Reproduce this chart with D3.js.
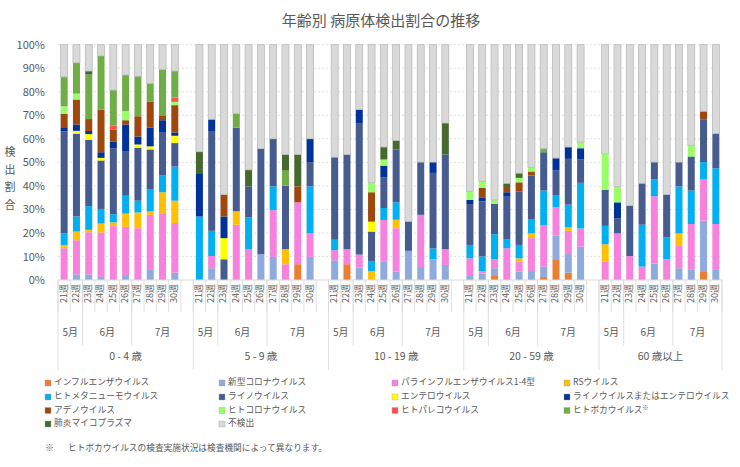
<!DOCTYPE html>
<html>
<head>
<meta charset="utf-8">
<script src="https://cdn.jsdelivr.net/npm/d3@7"></script>
<style>
  body { margin: 0; background: #fff; }
  text { font-family: "Noto Sans CJK JP", "Noto Sans", sans-serif; fill: #595959; }
</style>
</head>
<body>
<div id="chart"></div>
<script>
// age groups, weeks and months on the multi-level x axis
const ageGroups = ["0 - 4 歳", "5 - 9 歳", "10 - 19 歳", "20 - 59 歳", "60 歳以上"];
const weeks = [21, 22, 23, 24, 25, 26, 27, 28, 29, 30];
const months = [
  {label: "5月", from: 0, to: 2},
  {label: "6月", from: 2, to: 6},
  {label: "7月", from: 6, to: 10}
];
const yTicks = [0, 0.1, 0.2, 0.3, 0.4, 0.5, 0.6, 0.7, 0.8, 0.9, 1];

// series names (stack order, bottom first) and colours
const seriesNames = [
  "インフルエンザウイルス", "新型コロナウイルス", "パラインフルエンザウイルス1-4型", "RSウイルス",
  "ヒトメタニューモウイルス", "ライノウイルス", "エンテロウイルス", "ライノウイルスまたはエンテロウイルス",
  "アデノウイルス", "ヒトコロナウイルス", "ヒトパレコウイルス", "ヒトボカウイルス",
  "肺炎マイコプラズマ", "不検出"
];
const seriesColors = [
  "#ED7D31", "#8FAADC", "#F782DD", "#FFC000",
  "#00B0F0", "#475C8E", "#FFFF00", "#003399",
  "#9E480E", "#99FF66", "#FF5050", "#70AD47",
  "#466A2E", "#D9D9D9"
];

// values in %, 10 weeks per age group: 0-4 | 5-9 | 10-19 | 20-59 | 60+
const flu = [
  0, 0, 0, 0, 0, 0, 0, 0, 0, 0,
  0, 0, 0, 0, 0, 0, 0, 0, 6.7, 0,
  0, 6.7, 0, 0, 0, 0, 0, 0, 0, 0,
  0, 0, 1.7, 0, 0, 0, 1.3, 8.5, 3.1, 0,
  0, 0, 0, 0, 0, 0, 0, 0, 3.4, 0
];
const covid = [
  0, 2.4, 2.4, 1.3, 0, 1.7, 0, 4.6, 0, 3.1,
  0, 5.0, 0, 0, 0, 11.0, 9.8, 0, 0, 9.8,
  8.4, 0, 5.3, 0, 7.7, 3.6, 12.4, 5.5, 8.8, 6.4,
  1.7, 2.7, 3.3, 0, 3.6, 3.8, 4.4, 10.3, 7.9, 14.2,
  0, 0, 0, 0, 7.0, 0, 5.0, 4.6, 21.8, 4.6
];
const para = [
  13.5, 14.5, 17.9, 18.9, 22.9, 20.9, 22.0, 23.1, 28.4, 21.1,
  0, 5.2, 0, 23.5, 13.1, 0, 19.9, 6.7, 26.3, 10.0,
  4.3, 6.4, 5.5, 0, 17.8, 18.4, 0, 22.2, 0, 6.7,
  7.5, 1.1, 3.8, 13.5, 4.1, 14.0, 17.6, 12.1, 9.9, 7.7,
  7.7, 19.8, 10.2, 5.7, 28.6, 8.8, 9.8, 19.2, 17.5, 19.2
];
const rsv = [
  1.4, 3.7, 1.0, 3.8, 1.6, 5.6, 6.7, 1.5, 8.9, 9.5,
  0, 0, 0, 5.7, 0, 0, 0, 6.4, 0, 0,
  0, 0, 0, 3.8, 0, 3.6, 0, 0, 0, 0,
  0, 0, 0, 0, 1.5, 2.0, 0, 0, 1.4, 0,
  7.5, 0, 0, 0, 0, 0, 5.0, 0, 0, 0
];
const hmpv = [
  4.9, 6.4, 10.1, 6.2, 3.5, 7.6, 5.0, 9.2, 7.1, 14.5,
  27.0, 10.7, 0, 0, 13.5, 0, 10.1, 0, 0, 20.0,
  4.4, 0, 0, 4.3, 5.1, 7.4, 0, 0, 4.6, 0,
  5.7, 6.2, 10.7, 3.9, 5.7, 6.1, 14.7, 5.2, 9.7, 19.4,
  7.8, 0, 0, 17.8, 7.1, 9.3, 20.0, 14.2, 7.4, 23.7
];
const rhino = [
  43.4, 35.2, 28.2, 20.6, 28.0, 19.0, 22.5, 17.1, 18.2, 10.0,
  0, 42.4, 8.8, 35.5, 13.2, 44.8, 20.2, 27.0, 0, 10.3,
  35.1, 40.2, 55.9, 12.5, 13.1, 22.5, 12.5, 22.4, 32.1, 40.2,
  17.4, 23.4, 12.8, 18.0, 22.8, 18.5, 16.3, 10.4, 19.5, 9.9,
  15.4, 6.5, 21.4, 17.6, 7.4, 18.2, 10.3, 14.5, 18.0, 14.7
];
const entero = [
  0, 1.2, 2.4, 1.1, 0, 0, 1.4, 1.3, 0, 3.1,
  0, 0, 9.0, 0, 0, 0, 0, 0, 0, 0,
  0, 0, 0, 4.2, 0, 0, 0, 0, 0, 0,
  0, 0, 0, 0, 0, 0, 0, 0, 0, 0,
  0, 0, 0, 0, 0, 0, 0, 0, 0, 0
];
const rhinoEntero = [
  1.4, 2.7, 1.3, 2.4, 2.9, 11.3, 3.4, 7.9, 5.3, 1.4,
  18.4, 5.0, 9.2, 0, 0, 0, 0, 0, 0, 9.9,
  0, 0, 5.7, 0, 4.9, 0, 0, 0, 4.6, 0,
  1.7, 1.5, 0, 1.9, 0, 0, 0, 5.3, 5.0, 4.8,
  0, 6.7, 0, 0, 0, 0, 0, 0, 0, 0
];
const adeno = [
  6.1, 10.6, 5.1, 18.1, 5.1, 1.8, 8.6, 11.0, 1.8, 11.6,
  0, 0, 9.3, 0, 0, 0, 0, 0, 6.8, 0,
  0, 0, 0, 12.5, 0, 0, 0, 0, 0, 0,
  0, 4.2, 0, 1.8, 3.8, 1.7, 0, 0, 0, 0,
  0, 0, 0, 0, 0, 0, 0, 0, 3.6, 0
];
const hcov = [
  3.1, 2.5, 0, 0, 0, 3.9, 0, 0, 0, 1.4,
  0, 0, 0, 0, 0, 0, 0, 0, 0, 0,
  0, 0, 0, 4.2, 2.6, 0, 0, 0, 0, 0,
  3.7, 2.9, 1.7, 0, 1.9, 1.8, 0, 0, 0, 2.6,
  15.2, 6.8, 0, 0, 0, 0, 0, 4.7, 0, 0
];
const parecho = [
  0, 0, 0, 0, 1.6, 0, 0, 0, 0, 1.8,
  0, 0, 0, 0, 0, 0, 0, 0, 0, 0,
  0, 0, 0, 0, 0, 0, 0, 0, 0, 0,
  0, 0, 0, 0, 0, 0, 0, 0, 0, 0,
  0, 0, 0, 0, 0, 0, 0, 0, 0, 0
];
const boca = [
  12.5, 13.1, 18.9, 22.8, 15.1, 15.3, 17.0, 7.8, 19.8, 11.3,
  0, 0, 0, 6.0, 0, 0, 0, 6.4, 0, 0,
  0, 0, 0, 0, 0, 0, 0, 0, 0, 0,
  0, 0, 0, 0, 0, 0, 1.5, 0, 0, 0,
  0, 0, 0, 0, 0, 0, 0, 0, 0, 0
];
const myco = [
  0, 0, 1.5, 0, 0, 0, 0, 0, 0, 0,
  9.1, 0, 0, 0, 7.0, 0, 0, 6.8, 13.5, 0,
  0, 0, 0, 0, 5.3, 3.8, 0, 0, 0, 13.4,
  0, 0, 0, 2.0, 2.0, 0, 0, 0, 0, 0,
  0, 0, 0, 0, 0, 0, 0, 0, 0, 0
];
const notDetected = [
  13.7, 7.7, 11.2, 4.8, 19.3, 12.9, 13.4, 16.5, 10.5, 11.2,
  45.5, 31.7, 63.7, 29.3, 53.2, 44.2, 40.0, 46.7, 46.7, 40.0,
  47.8, 46.7, 27.6, 58.5, 43.5, 40.7, 75.1, 49.9, 49.9, 33.3,
  62.3, 58.0, 66.0, 58.9, 54.6, 52.1, 44.2, 48.2, 43.5, 41.4,
  46.4, 60.2, 68.4, 58.9, 49.9, 63.7, 49.9, 42.8, 28.3, 37.8
];
const seriesValues = [flu, covid, para, rsv, hmpv, rhino, entero, rhinoEntero,
                      adeno, hcov, parecho, boca, myco, notDetected];

// build rows for d3.stack
const rows = [];
ageGroups.forEach((g, gi) => {
  weeks.forEach((w, wi) => {
    const row = {key: gi + "-" + w, group: gi, week: w};
    seriesNames.forEach((s, si) => { row[s] = seriesValues[si][gi * 10 + wi]; });
    rows.push(row);
  });
});

// x slots: 10 weeks per group, plus one empty slot after each group but the last
const slots = [];
ageGroups.forEach((g, gi) => {
  weeks.forEach(w => slots.push(gi + "-" + w));
  if (gi < ageGroups.length - 1) slots.push(gi + "-blank");
});

const W = 740, H = 467;
const plot = {left: 58, right: 722, top: 44.7, bottom: 280};

const svg = d3.select("#chart").append("svg")
  .attr("width", W).attr("height", H);

const x = d3.scaleBand().domain(slots).range([plot.left, plot.right]).paddingInner(0.43).paddingOuter(0.215);
const step = x.step();
const x0 = plot.left;
const y = d3.scaleLinear().domain([0, 1]).range([plot.bottom, plot.top]);

// title
svg.append("text")
  .attr("x", 381).attr("y", 22)
  .attr("text-anchor", "middle").attr("dominant-baseline", "middle")
  .style("font-size", "15px")
  .text("年齢別 病原体検出割合の推移");

// gridlines
svg.append("g").selectAll("line")
  .data(yTicks.filter(t => t > 0))
  .join("line")
  .attr("x1", plot.left).attr("x2", plot.right)
  .attr("y1", d => y(d)).attr("y2", d => y(d))
  .attr("stroke", "#D9D9D9").attr("stroke-width", 0.8)
  .attr("stroke-dasharray", "2,2");

// y axis labels
const yAxis = svg.append("g")
  .attr("transform", `translate(${plot.left},0)`)
  .call(d3.axisLeft(y).tickValues(yTicks).tickFormat(d3.format(".0%")).tickSize(0).tickPadding(13));
yAxis.select(".domain").remove();
yAxis.selectAll("text").style("font-size", "11px").attr("fill", "#595959")
  .style("font-family", "\"Noto Sans CJK JP\", sans-serif");

// y title, upright characters stacked vertically
svg.append("g").selectAll("text")
  .data("検出割合".split(""))
  .join("text")
  .attr("x", 10).attr("y", (d, i) => 153 + i * 17.7)
  .attr("text-anchor", "middle").attr("dominant-baseline", "middle")
  .style("font-size", "11px")
  .text(d => d);

// stacked bars
const stack = d3.stack().keys(seriesNames).offset(d3.stackOffsetExpand);
const stacked = stack(rows);

svg.append("g").selectAll("g")
  .data(stacked)
  .join("g")
  .attr("fill", (d, i) => seriesColors[i])
  .attr("stroke", (d, i) => i === seriesNames.length - 1 ? "#B4B4B4" : "none")
  .attr("stroke-width", 0.7)
  .selectAll("rect")
  .data(d => d.filter(p => p[1] - p[0] > 0))
  .join("rect")
  .attr("x", d => x(d.data.key))
  .attr("width", x.bandwidth())
  .attr("y", d => y(d[1]))
  .attr("height", d => y(d[0]) - y(d[1]));

// baseline
svg.append("line")
  .attr("x1", plot.left).attr("x2", plot.right)
  .attr("y1", plot.bottom).attr("y2", plot.bottom)
  .attr("stroke", "#D9D9D9").attr("stroke-width", 1);

// x axis separators: weeks, months, groups
const sep = svg.append("g").attr("stroke", "#D9D9D9").attr("stroke-width", 0.8);
sep.selectAll("line.wk")
  .data(d3.range(slots.length + 1))
  .join("line")
  .attr("class", "wk")
  .attr("x1", i => x0 + i * step).attr("x2", i => x0 + i * step)
  .attr("y1", plot.bottom).attr("y2", 312);

const monthBounds = [];
const groupBounds = [];
ageGroups.forEach((g, gi) => {
  const start = gi * 11;
  const len = gi < ageGroups.length - 1 ? 11 : 10;
  groupBounds.push(start);
  monthBounds.push(start + 2, start + 6);
  if (gi === ageGroups.length - 1) groupBounds.push(start + len);
});
sep.selectAll("line.mo")
  .data(monthBounds)
  .join("line")
  .attr("class", "mo")
  .attr("x1", i => x0 + i * step).attr("x2", i => x0 + i * step)
  .attr("y1", plot.bottom).attr("y2", 346);
sep.selectAll("line.gr")
  .data(groupBounds)
  .join("line")
  .attr("class", "gr")
  .attr("x1", i => x0 + i * step).attr("x2", i => x0 + i * step)
  .attr("y1", plot.bottom).attr("y2", 370);

// week labels
svg.append("g").selectAll("text")
  .data(rows)
  .join("text")
  .attr("transform", d => `translate(${x(d.key) + x.bandwidth() / 2},284) rotate(-90)`)
  .attr("text-anchor", "end").attr("dominant-baseline", "middle")
  .style("font-size", "9px")
  .text(d => d.week + "週");

// month labels
const monthLabels = [];
ageGroups.forEach((g, gi) => {
  const start = gi * 11;
  months.forEach((m, mi) => {
    let to = m.to;
    if (mi === months.length - 1 && gi < ageGroups.length - 1) to = 11;
    monthLabels.push({label: m.label, cx: x0 + (start + (m.from + to) / 2) * step});
  });
});
svg.append("g").selectAll("text")
  .data(monthLabels)
  .join("text")
  .attr("x", d => d.cx).attr("y", 333)
  .attr("text-anchor", "middle").attr("dominant-baseline", "middle")
  .style("font-size", "10px")
  .text(d => d.label);

// age group labels
svg.append("g").selectAll("text")
  .data(ageGroups)
  .join("text")
  .attr("x", (d, gi) => x0 + (gi * 11 + (gi < ageGroups.length - 1 ? 11 : 10) / 2) * step)
  .attr("y", 357)
  .attr("text-anchor", "middle").attr("dominant-baseline", "middle")
  .style("font-size", "10.5px")
  .text(d => d);

// legend, 4 columns
const legendX = [48, 222, 395, 567];
const legendY = [383, 397, 410.5, 424];
const legend = svg.append("g").selectAll("g")
  .data(seriesNames)
  .join("g")
  .attr("transform", (d, i) => `translate(${legendX[i % 4]},${legendY[Math.floor(i / 4)]})`);
legend.append("rect")
  .attr("x", -3).attr("y", -3).attr("width", 6).attr("height", 6)
  .attr("fill", (d, i) => seriesColors[i])
  .attr("stroke", "#A6A6A6").attr("stroke-width", 0.4);
const lt = legend.append("text")
  .attr("x", 6).attr("y", 0)
  .attr("dominant-baseline", "middle")
  .style("font-size", "8.7px")
  .text(d => d);
lt.filter(d => d === "ヒトボカウイルス")
  .append("tspan")
  .attr("dy", -2.5)
  .style("font-size", "6px")
  .text("※");

// footnote
svg.append("text")
  .attr("x", 45).attr("y", 449)
  .attr("dominant-baseline", "middle")
  .style("font-size", "9px")
  .text("※");
svg.append("text")
  .attr("x", 68).attr("y", 449)
  .attr("dominant-baseline", "middle")
  .style("font-size", "8.7px")
  .text("ヒトボカウイルスの検査実施状況は検査機関によって異なります。");
</script>
</body>
</html>
